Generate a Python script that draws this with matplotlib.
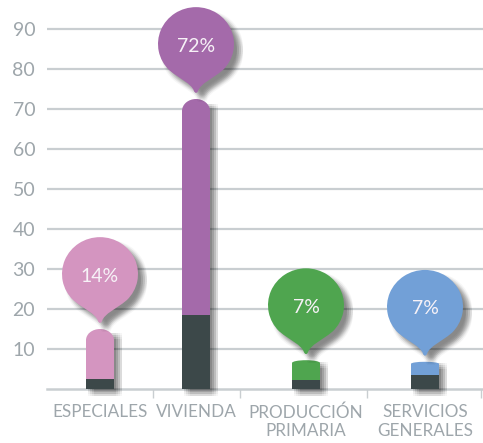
import matplotlib
matplotlib.use("Agg")
import matplotlib.pyplot as plt
from matplotlib.path import Path
from matplotlib.patches import PathPatch, Ellipse
from matplotlib.transforms import Affine2D, IdentityTransform
import numpy as np

plt.rcParams['font.family'] = ['Lato', 'DejaVu Sans']

# ---- data ----
categories = ["ESPECIALES", "VIVIENDA", "PRODUCCIÓN\nPRIMARIA", "SERVICIOS\nGENERALES"]
totals = [15.0, 72.5, 7.2, 6.8]        # full bar height
dark_part = [2.5, 18.5, 2.2, 3.5]      # dark lower segment
pct_labels = ["14%", "72%", "7%", "7%"]
yticks = [10, 20, 30, 40, 50, 60, 70, 80, 90]

# ---- layout / style ----
xpos = [0.53, 1.49, 2.59, 3.78]
separators = [1.06, 1.93, 3.20, 4.34]
colors = ["#D495C0", "#A46AAA", "#4FA54F", "#72A0D7"]
cap_h = [2.8, 3.0, 0.7, 0.5]
dark_color = "#3C4849"
grid_color = "#C9CED1"
text_gray = "#9EA6AB"
bar_w = 0.28

W, H = 483, 443
fig = plt.figure(figsize=(W / 100, H / 100), dpi=100)
ax = fig.add_axes([47 / W, 54 / H, 436 / W, 389 / H])
ax.set_xlim(0, 4.36)
ax.set_ylim(0, 97.25)
ax.set_autoscale_on(False)
for s in ax.spines.values():
    s.set_visible(False)

ax.set_yticks(yticks)
ax.set_yticklabels([str(v) for v in yticks])
ax.yaxis.grid(True, color=grid_color, lw=1.6, zorder=0)
ax.set_axisbelow(True)
ax.tick_params(axis='y', length=0, pad=8.5, labelsize=14, labelcolor=text_gray)

ax.set_xticks(xpos)
ax.set_xticklabels(categories, linespacing=1.2)
ax.tick_params(axis='x', which='major', length=0, pad=11, labelsize=12.3, labelcolor=text_gray)
ax.set_xticks(separators, minor=True)
ax.tick_params(axis='x', which='minor', length=6.5, width=1.0, color=grid_color, direction='out')
ax.axhline(0, color=grid_color, lw=1.8, zorder=0.6, clip_on=False)

fig.canvas.draw()
tD = ax.transData


def add_shadow(path, base_off=(5, -5), spread=(-3, -1, 1, 3), alpha=0.035, z=1):
    for dx in spread:
        for dy in spread:
            tr = Affine2D().translate(base_off[0] + dx, base_off[1] + dy)
            p = PathPatch(path, transform=tr, facecolor='black', edgecolor='none',
                          alpha=alpha, zorder=z, clip_on=False)
            ax.add_artist(p)


def bubble_path(cx, cy, R=38.0, tip=49.0):
    arc = Path.arc(-45, 225)
    verts = list(arc.vertices * np.array([R, R * 0.97]) + np.array([cx, cy]))
    codes = list(arc.codes)
    la = np.deg2rad(225)
    lx, ly = cx + R * np.cos(la), cy + R * 0.97 * np.sin(la)
    rx, ry = cx - (lx - cx), ly
    tx, ty = cx, cy - tip
    verts += [(cx - 15, cy - 36), (cx - 5, cy - 39), (cx - 2, cy - 47),
              (cx - 1, cy - 49.5), (cx + 1, cy - 49.5), (cx + 2, cy - 47),
              (cx + 5, cy - 39), (cx + 15, cy - 36), (rx, ry), (rx, ry)]
    codes += [Path.CURVE4] * 9 + [Path.CLOSEPOLY]
    return Path(np.array(verts), codes)


for i in range(len(categories)):
    x = xpos[i]
    tot = totals[i]
    dk = dark_part[i]
    ch = cap_h[i]
    # bar shadow (display coords)
    (x0, y0) = tD.transform((x - bar_w / 2, 0))
    (x1, y1) = tD.transform((x + bar_w / 2, tot - ch * 0.3))
    rect_path = Path([(x0, y0), (x1, y0), (x1, y1), (x0, y1), (x0, y0)],
                     [Path.MOVETO, Path.LINETO, Path.LINETO, Path.LINETO, Path.CLOSEPOLY])
    add_shadow(rect_path, base_off=(5, -4), z=1)
    # bars
    ax.bar(x, dk, width=bar_w, color=dark_color, zorder=3, linewidth=0)
    ax.bar(x, tot - dk - ch, bottom=dk, width=bar_w, color=colors[i], zorder=3, linewidth=0)
    ax.add_patch(Ellipse((x, tot - ch), width=bar_w, height=2 * ch, color=colors[i],
                         zorder=3, linewidth=0))
    # bubble
    bx, by = tD.transform((x, tot))
    cx, cy = bx, by + 6 + 49
    bp = bubble_path(cx, cy)
    add_shadow(bp, base_off=(6, -6), z=4)
    ax.add_artist(PathPatch(bp, transform=IdentityTransform(), facecolor=colors[i],
                            edgecolor='none', zorder=5, clip_on=False))
    ax.text(cx / W, (cy - 2) / H, pct_labels[i], color='#F7F2F7', fontsize=14,
            ha='center', va='center', zorder=6, transform=fig.transFigure)

fig.savefig("out.png", dpi=100, facecolor='white')
